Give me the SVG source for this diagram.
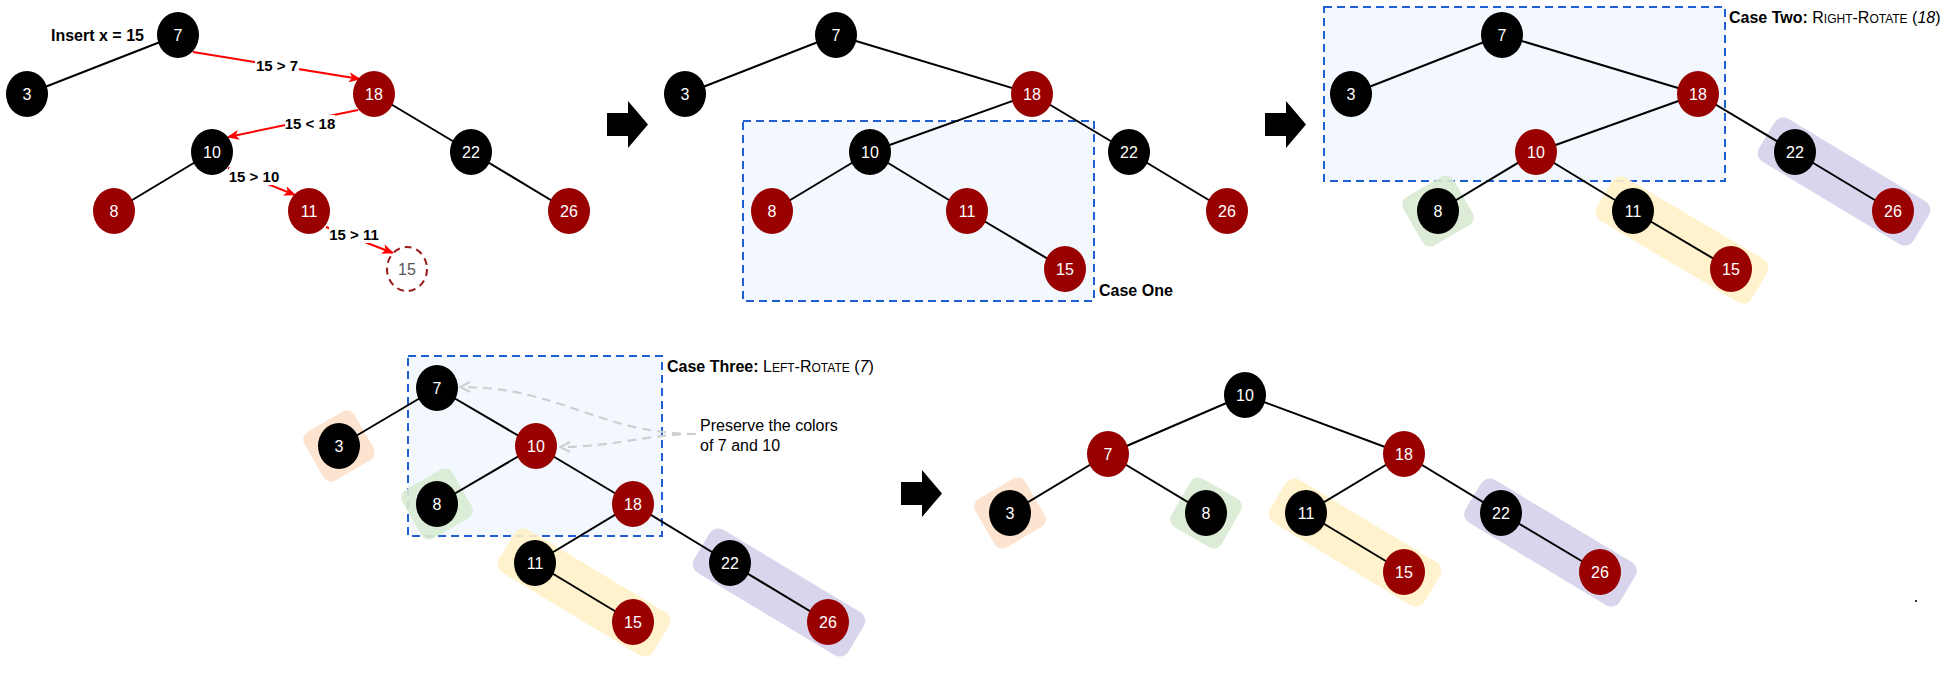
<svg xmlns="http://www.w3.org/2000/svg" width="1954" height="674" viewBox="0 0 1954 674">
<style>
.b{fill:#000}
.r{fill:#990000}
.t{fill:#fff;font-family:"Liberation Sans",Arial,Helvetica,sans-serif;font-size:16px;text-anchor:middle}
.e{stroke:#000;stroke-width:2;fill:none}
.box{fill:#f3f8fe;stroke:#1f5fd1;stroke-width:2;stroke-dasharray:8 5}
.lab{font-family:"Liberation Sans",Arial,Helvetica,sans-serif;font-size:16px;fill:#000}
.cmp{font-family:"Liberation Sans",Arial,Helvetica,sans-serif;font-size:15px;font-weight:bold;fill:#000;text-anchor:middle}
.ra{stroke:#ff0000;stroke-width:2;fill:none;marker-end:url(#rh)}
.ga{stroke:#cfcfcf;stroke-width:2.2;fill:none;stroke-dasharray:9 6;marker-end:url(#gh)}
.big{fill:#000}
.hg{fill:#d8ead3;opacity:0.9}
.hy{fill:#fff1c6;opacity:0.9}
.hp{fill:#d7d3eb;opacity:0.95}
.ho{fill:#fce3cd;opacity:0.95}
</style>
<defs>
<marker id="rh" viewBox="0 0 12 10" refX="11" refY="5" markerWidth="12" markerHeight="10" markerUnits="userSpaceOnUse" orient="auto">
<path d="M0,0 L12,5 L0,10 L3,5 Z" fill="#ff0000"/>
</marker>
<marker id="gh" viewBox="0 0 12 12" refX="11" refY="6" markerWidth="12" markerHeight="12" markerUnits="userSpaceOnUse" orient="auto">
<path d="M1,1 L11,6 L1,11" fill="none" stroke="#cfcfcf" stroke-width="2"/>
</marker>
</defs>
<rect width="1954" height="674" fill="#fff"/>

<!-- boxes -->
<g id="boxes">
<rect class="box" x="743" y="121" width="351" height="180"/>
<rect class="box" x="1324" y="7" width="401" height="174"/>
<rect class="box" x="408" y="356" width="254" height="180"/>
</g>

<!-- highlights -->
<g id="highlights">
<rect class="hg" x="-29" y="-28" width="58" height="56" rx="9" transform="translate(1438 211) rotate(-30)"/>
<rect class="hy" x="-90" y="-25" width="180" height="50" rx="10" transform="translate(1682 240) rotate(30.6)"/>
<rect class="hp" x="-90" y="-25" width="180" height="50" rx="10" transform="translate(1844 181.5) rotate(31)"/>
<rect class="ho" x="-29" y="-28" width="58" height="56" rx="9" transform="translate(339 446) rotate(-30)"/>
<rect class="hg" x="-29" y="-28" width="58" height="56" rx="9" transform="translate(437 504) rotate(-30)"/>
<rect class="hy" x="-90" y="-25" width="180" height="50" rx="10" transform="translate(584 592.5) rotate(31)"/>
<rect class="hp" x="-90" y="-25" width="180" height="50" rx="10" transform="translate(779 592.5) rotate(31)"/>
<rect class="ho" x="-29" y="-28" width="58" height="56" rx="9" transform="translate(1010 513) rotate(-30)"/>
<rect class="hg" x="-29" y="-28" width="58" height="56" rx="9" transform="translate(1206 513) rotate(30)"/>
<rect class="hy" x="-90" y="-25" width="180" height="50" rx="10" transform="translate(1355 542.5) rotate(31)"/>
<rect class="hp" x="-90" y="-25" width="180" height="50" rx="10" transform="translate(1550.5 542.5) rotate(31)"/>
</g>

<!-- connectors -->
<g id="connectors">
<!-- tree 1 -->
<line class="e" x1="178" y1="35" x2="27" y2="94"/>
<line class="e" x1="374" y1="94" x2="471" y2="152"/>
<line class="e" x1="212" y1="152" x2="114" y2="211"/>
<line class="e" x1="471" y1="152" x2="569" y2="211"/>
<line class="ra" x1="193" y1="52" x2="360" y2="79"/>
<line class="ra" x1="358" y1="110" x2="228" y2="137"/>
<line class="ra" x1="228" y1="168" x2="295" y2="195"/>
<line class="ra" x1="326" y1="227" x2="393" y2="253"/>
<!-- tree 2 -->
<line class="e" x1="836" y1="35" x2="685" y2="94"/>
<line class="e" x1="836" y1="35" x2="1032" y2="94"/>
<line class="e" x1="1032" y1="94" x2="870" y2="152"/>
<line class="e" x1="1032" y1="94" x2="1129" y2="152"/>
<line class="e" x1="870" y1="152" x2="772" y2="211"/>
<line class="e" x1="870" y1="152" x2="967" y2="211"/>
<line class="e" x1="967" y1="211" x2="1065" y2="269"/>
<line class="e" x1="1129" y1="152" x2="1227" y2="211"/>
<!-- tree 3 -->
<line class="e" x1="1502" y1="35" x2="1351" y2="94"/>
<line class="e" x1="1502" y1="35" x2="1698" y2="94"/>
<line class="e" x1="1698" y1="94" x2="1536" y2="152"/>
<line class="e" x1="1698" y1="94" x2="1795" y2="152"/>
<line class="e" x1="1536" y1="152" x2="1438" y2="211"/>
<line class="e" x1="1536" y1="152" x2="1633" y2="211"/>
<line class="e" x1="1633" y1="211" x2="1731" y2="269"/>
<line class="e" x1="1795" y1="152" x2="1893" y2="211"/>
<!-- tree 4 -->
<line class="e" x1="437" y1="388" x2="339" y2="446"/>
<line class="e" x1="437" y1="388" x2="536" y2="446"/>
<line class="e" x1="536" y1="446" x2="437" y2="504"/>
<line class="e" x1="536" y1="446" x2="633" y2="504"/>
<line class="e" x1="633" y1="504" x2="535" y2="563"/>
<line class="e" x1="633" y1="504" x2="730" y2="563"/>
<line class="e" x1="535" y1="563" x2="633" y2="622"/>
<line class="e" x1="730" y1="563" x2="828" y2="622"/>
<path class="ga" d="M696,434 C600,434 560,387 460,387"/>
<path class="ga" d="M696,434 C650,434 612,447 560,447"/>
<!-- tree 5 -->
<line class="e" x1="1245" y1="395" x2="1108" y2="454"/>
<line class="e" x1="1245" y1="395" x2="1404" y2="454"/>
<line class="e" x1="1108" y1="454" x2="1010" y2="513"/>
<line class="e" x1="1108" y1="454" x2="1206" y2="513"/>
<line class="e" x1="1404" y1="454" x2="1306" y2="513"/>
<line class="e" x1="1404" y1="454" x2="1501" y2="513"/>
<line class="e" x1="1306" y1="513" x2="1404" y2="572"/>
<line class="e" x1="1501" y1="513" x2="1600" y2="572"/>
</g>

<!-- comparison labels -->
<g id="compare-labels">
<rect x="255" y="57" width="44" height="17" fill="#fff"/>
<text class="cmp" x="277" y="71">15 &gt; 7</text>
<rect x="285" y="115" width="50" height="17" fill="#fff"/>
<text class="cmp" x="310" y="129">15 &lt; 18</text>
<rect x="229" y="168" width="50" height="17" fill="#fff"/>
<text class="cmp" x="254" y="182">15 &gt; 10</text>
<rect x="329" y="226" width="50" height="17" fill="#fff"/>
<text class="cmp" x="354" y="240">15 &gt; 11</text>
</g>

<!-- big arrows -->
<g id="step-arrows">
<path class="big" d="M607,113 H628 V101 L648,124.5 L628,148 V136 H607 Z"/>
<path class="big" d="M1265,113 H1286 V101 L1306,124.5 L1286,148 V136 H1265 Z"/>
<path class="big" d="M901,482 H922 V470 L942,493.5 L922,517 V505 H901 Z"/>
</g>

<!-- tree 1 nodes -->
<g id="t1-7"><ellipse class="b" cx="178" cy="35" rx="21" ry="23"/><text class="t" x="178" y="41">7</text></g>
<g id="t1-3"><ellipse class="b" cx="27" cy="94" rx="21" ry="23"/><text class="t" x="27" y="100">3</text></g>
<g id="t1-18"><ellipse class="r" cx="374" cy="94" rx="21" ry="23"/><text class="t" x="374" y="100">18</text></g>
<g id="t1-10"><ellipse class="b" cx="212" cy="152" rx="21" ry="23"/><text class="t" x="212" y="158">10</text></g>
<g id="t1-22"><ellipse class="b" cx="471" cy="152" rx="21" ry="23"/><text class="t" x="471" y="158">22</text></g>
<g id="t1-8"><ellipse class="r" cx="114" cy="211" rx="21" ry="23"/><text class="t" x="114" y="217">8</text></g>
<g id="t1-11"><ellipse class="r" cx="309" cy="211" rx="21" ry="23"/><text class="t" x="309" y="217">11</text></g>
<g id="t1-26"><ellipse class="r" cx="569" cy="211" rx="21" ry="23"/><text class="t" x="569" y="217">26</text></g>
<g id="t1-15"><ellipse cx="407" cy="269" rx="20" ry="22" fill="#fff" stroke="#9b1b1b" stroke-width="2" stroke-dasharray="7 5"/><text class="t" x="407" y="275" style="fill:#555">15</text></g>
<text class="lab" x="51" y="41" font-weight="bold">Insert x = 15</text>

<!-- tree 2 nodes -->
<g id="t2-7"><ellipse class="b" cx="836" cy="35" rx="21" ry="23"/><text class="t" x="836" y="41">7</text></g>
<g id="t2-3"><ellipse class="b" cx="685" cy="94" rx="21" ry="23"/><text class="t" x="685" y="100">3</text></g>
<g id="t2-18"><ellipse class="r" cx="1032" cy="94" rx="21" ry="23"/><text class="t" x="1032" y="100">18</text></g>
<g id="t2-10"><ellipse class="b" cx="870" cy="152" rx="21" ry="23"/><text class="t" x="870" y="158">10</text></g>
<g id="t2-22"><ellipse class="b" cx="1129" cy="152" rx="21" ry="23"/><text class="t" x="1129" y="158">22</text></g>
<g id="t2-8"><ellipse class="r" cx="772" cy="211" rx="21" ry="23"/><text class="t" x="772" y="217">8</text></g>
<g id="t2-11"><ellipse class="r" cx="967" cy="211" rx="21" ry="23"/><text class="t" x="967" y="217">11</text></g>
<g id="t2-26"><ellipse class="r" cx="1227" cy="211" rx="21" ry="23"/><text class="t" x="1227" y="217">26</text></g>
<g id="t2-15"><ellipse class="r" cx="1065" cy="269" rx="21" ry="23"/><text class="t" x="1065" y="275">15</text></g>
<text class="lab" x="1099" y="296" font-weight="bold">Case One</text>

<!-- tree 3 nodes -->
<g id="t3-7"><ellipse class="b" cx="1502" cy="35" rx="21" ry="23"/><text class="t" x="1502" y="41">7</text></g>
<g id="t3-3"><ellipse class="b" cx="1351" cy="94" rx="21" ry="23"/><text class="t" x="1351" y="100">3</text></g>
<g id="t3-18"><ellipse class="r" cx="1698" cy="94" rx="21" ry="23"/><text class="t" x="1698" y="100">18</text></g>
<g id="t3-10"><ellipse class="r" cx="1536" cy="152" rx="21" ry="23"/><text class="t" x="1536" y="158">10</text></g>
<g id="t3-22"><ellipse class="b" cx="1795" cy="152" rx="21" ry="23"/><text class="t" x="1795" y="158">22</text></g>
<g id="t3-8"><ellipse class="b" cx="1438" cy="211" rx="21" ry="23"/><text class="t" x="1438" y="217">8</text></g>
<g id="t3-11"><ellipse class="b" cx="1633" cy="211" rx="21" ry="23"/><text class="t" x="1633" y="217">11</text></g>
<g id="t3-26"><ellipse class="r" cx="1893" cy="211" rx="21" ry="23"/><text class="t" x="1893" y="217">26</text></g>
<g id="t3-15"><ellipse class="r" cx="1731" cy="269" rx="21" ry="23"/><text class="t" x="1731" y="275">15</text></g>
<text class="lab" x="1729" y="23"><tspan font-weight="bold">Case Two:</tspan> R<tspan font-size="12">IGHT</tspan>-R<tspan font-size="12">OTATE</tspan> (<tspan font-style="italic">18</tspan>)</text>

<!-- tree 4 nodes -->
<g id="t4-7"><ellipse class="b" cx="437" cy="388" rx="21" ry="23"/><text class="t" x="437" y="394">7</text></g>
<g id="t4-3"><ellipse class="b" cx="339" cy="446" rx="21" ry="23"/><text class="t" x="339" y="452">3</text></g>
<g id="t4-10"><ellipse class="r" cx="536" cy="446" rx="21" ry="23"/><text class="t" x="536" y="452">10</text></g>
<g id="t4-8"><ellipse class="b" cx="437" cy="504" rx="21" ry="23"/><text class="t" x="437" y="510">8</text></g>
<g id="t4-18"><ellipse class="r" cx="633" cy="504" rx="21" ry="23"/><text class="t" x="633" y="510">18</text></g>
<g id="t4-11"><ellipse class="b" cx="535" cy="563" rx="21" ry="23"/><text class="t" x="535" y="569">11</text></g>
<g id="t4-22"><ellipse class="b" cx="730" cy="563" rx="21" ry="23"/><text class="t" x="730" y="569">22</text></g>
<g id="t4-15"><ellipse class="r" cx="633" cy="622" rx="21" ry="23"/><text class="t" x="633" y="628">15</text></g>
<g id="t4-26"><ellipse class="r" cx="828" cy="622" rx="21" ry="23"/><text class="t" x="828" y="628">26</text></g>
<text class="lab" x="667" y="372"><tspan font-weight="bold">Case Three:</tspan> L<tspan font-size="12">EFT</tspan>-R<tspan font-size="12">OTATE</tspan> (<tspan font-style="italic">7</tspan>)</text>
<text class="lab" x="700" y="431">Preserve the colors</text>
<text class="lab" x="700" y="451">of 7 and 10</text>

<!-- tree 5 nodes -->
<g id="t5-10"><ellipse class="b" cx="1245" cy="395" rx="21" ry="23"/><text class="t" x="1245" y="401">10</text></g>
<g id="t5-7"><ellipse class="r" cx="1108" cy="454" rx="21" ry="23"/><text class="t" x="1108" y="460">7</text></g>
<g id="t5-18"><ellipse class="r" cx="1404" cy="454" rx="21" ry="23"/><text class="t" x="1404" y="460">18</text></g>
<g id="t5-3"><ellipse class="b" cx="1010" cy="513" rx="21" ry="23"/><text class="t" x="1010" y="519">3</text></g>
<g id="t5-8"><ellipse class="b" cx="1206" cy="513" rx="21" ry="23"/><text class="t" x="1206" y="519">8</text></g>
<g id="t5-11"><ellipse class="b" cx="1306" cy="513" rx="21" ry="23"/><text class="t" x="1306" y="519">11</text></g>
<g id="t5-22"><ellipse class="b" cx="1501" cy="513" rx="21" ry="23"/><text class="t" x="1501" y="519">22</text></g>
<g id="t5-15"><ellipse class="r" cx="1404" cy="572" rx="21" ry="23"/><text class="t" x="1404" y="578">15</text></g>
<g id="t5-26"><ellipse class="r" cx="1600" cy="572" rx="21" ry="23"/><text class="t" x="1600" y="578">26</text></g>

<rect x="1915" y="600" width="2" height="2" fill="#333"/>
</svg>
